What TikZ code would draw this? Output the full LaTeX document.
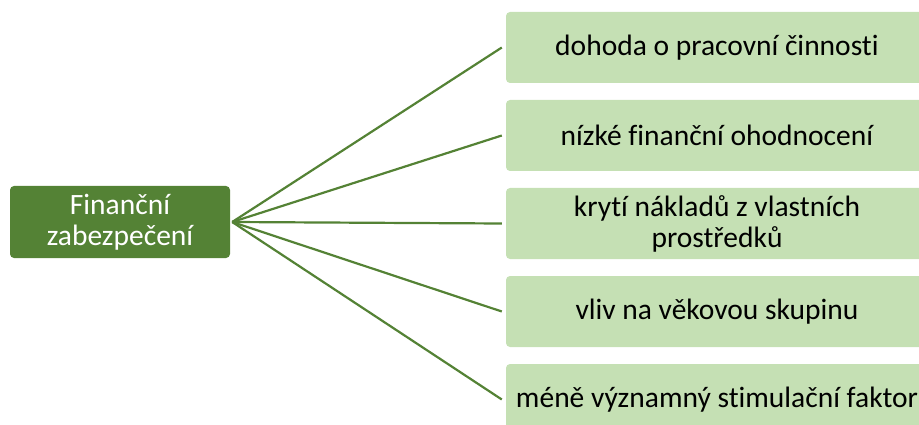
\documentclass[tikz,border=0pt]{standalone}
\usepackage{fontspec}
\setmainfont[Ligatures=NoCommon]{Carlito}
\definecolor{darkg}{HTML}{548235}
\definecolor{lightg}{HTML}{C5E0B4}
\begin{document}
\begin{tikzpicture}[x=1pt,y=-1pt,
  mainbox/.style={fill=darkg,rounded corners=4pt,minimum width=220pt,minimum height=72pt,text=white,align=center,font=\fontsize{29.5}{31}\selectfont,inner sep=0pt},
  leafbox/.style={fill=lightg,rounded corners=4pt,minimum width=422pt,minimum height=71pt,text=black,align=center,font=\fontsize{29.5}{31}\selectfont,inner sep=0pt},
  link/.style={draw=darkg,line width=2.2pt}]
\useasboundingbox (0,0) rectangle (919,425);
\begin{scope}
\clip (0,0) rectangle (919,425);
\node[mainbox] (m) at (120,222) {Finanční\\zabezpečení};
\node[leafbox] (b1) at (717,47.5) {dohoda o pracovní činnosti};
\node[leafbox] (b2) at (717,135.5) {nízké finanční ohodnocení};
\node[leafbox] (b3) at (717,223.5) {krytí nákladů z vlastních\\prostředků};
\node[leafbox] (b4) at (717,311.5) {vliv na věkovou skupinu};
\node[leafbox] (b5) at (717,399.5) {méně významný stimulační faktor};
\foreach \b in {b1,b2,b3,b4,b5}
  \draw[link] ([xshift=2pt]m.east) -- ([xshift=-4pt]\b.west);
\end{scope}
\end{tikzpicture}
\end{document}
